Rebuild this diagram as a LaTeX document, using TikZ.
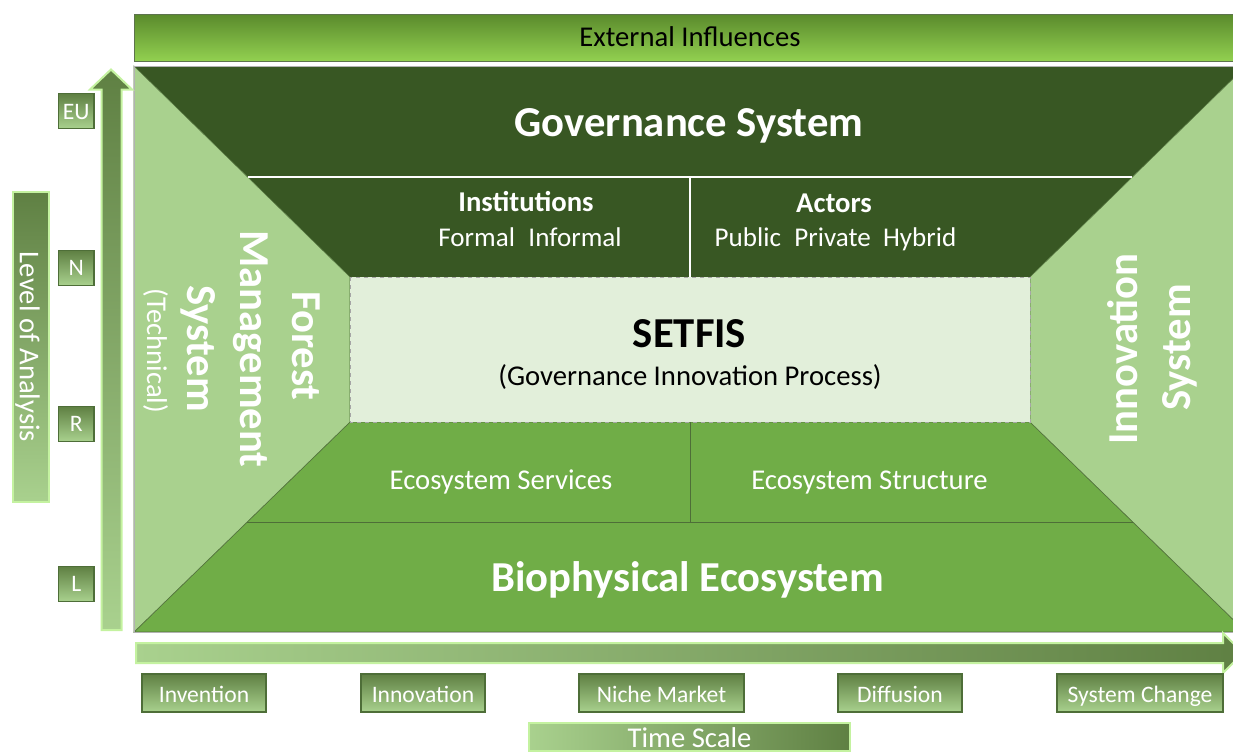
\documentclass[tikz,border=0pt]{standalone}
\usepackage{fontspec}
\setmainfont{Carlito}
\definecolor{gdark}{HTML}{385723}
\definecolor{gmid}{HTML}{70AD47}
\definecolor{glight}{HTML}{A9D18E}
\definecolor{gpale}{HTML}{E2EFDA}
\definecolor{gshade}{HTML}{5F8043}
\definecolor{gedge}{HTML}{C4F2A0}
\definecolor{gborder}{HTML}{4E6E38}
\definecolor{extop}{HTML}{5A8A2C}
\definecolor{exbot}{HTML}{92D050}
\newcommand{\fbig}{\fontsize{32}{38}\selectfont\bfseries}
\newcommand{\fmid}{\fontsize{21.5}{26}\selectfont}
\newcommand{\fsub}{\fontsize{20.3}{24}\selectfont}
\newcommand{\fsmall}{\fontsize{17.7}{21}\selectfont}
\begin{document}
\begin{tikzpicture}[x=0.75pt,y=-0.75pt,
  lbl/.style={anchor=base, text=white, inner sep=0pt},
  lvlbox/.style={draw=gborder, line width=0.8pt, top color=gshade, bottom color=glight,
    minimum width=26.5pt, minimum height=26.25pt, inner sep=0pt, text=white, font=\fsmall,
    text height=13.6pt, text depth=2pt},
  timebox/.style={draw=gborder, line width=0.8pt, top color=gshade, bottom color=glight,
    minimum height=28.5pt, inner sep=0pt, text=white, font=\fsmall,
    text height=15.5pt, text depth=2pt},
  fatarrow/.style={draw=gedge, line width=1.5pt, line join=miter}]
\useasboundingbox (0,0) rectangle (1233,753);
\clip (0,0) rectangle (1233,753);

% External influences bar
\node[draw=gborder!70!gray, line width=0.6pt, top color=extop, bottom color=exbot,
  minimum width=834pt, minimum height=35.25pt, inner sep=0pt, font=\fmid,
  text height=14.8pt, text depth=2pt] (ext) at (690,37.5) {External Influences};

% Frame: governance (top) and biophysical (bottom)
\fill[gdark] (134,66) -- (1246,66) -- (1030,277) -- (350,277) -- cycle;
\filldraw[fill=gmid, draw=gborder, line width=0.5pt] (134,632) -- (1246,632) -- (1030,422) -- (350,422) -- cycle;
% side panels
\filldraw[fill=glight, draw=gborder, line width=0.4pt] (134,66) -- (350,277) -- (350,422) -- (134,632) -- cycle;
\filldraw[fill=glight, draw=gborder, line width=0.4pt] (1246,66) -- (1030,277) -- (1030,422) -- (1246,632) -- cycle;
% centre
\filldraw[fill=gpale, draw=gray!70, dashed, line width=0.4pt] (350,277) rectangle (1030,422);
% division lines
\draw[white, line width=0.8pt] (247.6,177) -- (1132.4,177);
\draw[white, line width=0.8pt] (690,177) -- (690,277);
\draw[gborder, line width=0.6pt] (247.1,522) -- (1132.9,522);
\draw[gborder, line width=0.6pt] (690,422) -- (690,522);
\draw[gray!60, line width=0.5pt] (134,66) rectangle (1246,632);

% texts in frame
\node[lbl, font=\fbig] (gov) at (689,136) {Governance System};
\node[lbl, font=\fmid\bfseries] (inst) at (526,211.5) {Institutions};
\node[lbl, font=\fsub] (instsub) at (530,246) {Formal\hspace{0.5em}Informal};
\node[lbl, font=\fmid\bfseries] (act) at (834,212.5) {Actors};
\node[lbl, font=\fsub] (actsub) at (835.5,246) {Public\hspace{0.5em}Private\hspace{0.45em}Hybrid};
\node[lbl, font=\fbig, text=black] (setfis) at (689.5,347) {SETFIS};
\node[lbl, font=\fmid, text=black] (gip) at (690,385) {(Governance Innovation Process)};
\node[lbl, font=\fmid] (ess) at (501,489) {Ecosystem Services};
\node[lbl, font=\fmid] (est) at (869.5,489) {Ecosystem Structure};
\node[lbl, font=\fbig] (bio) at (687.5,591) {Biophysical Ecosystem};
\node[lbl, font=\fbig, rotate=-90] (fm1) at (292,346) {Forest};
\node[lbl, font=\fbig, rotate=-90] (fm2) at (240,349) {Management};
\node[lbl, font=\fbig, rotate=-90] (fm3) at (187,348.5) {System};
\node[lbl, font=\fmid, rotate=-90] (fm4) at (147,351) {(Technical)};
\node[lbl, font=\fbig, rotate=90] (is1) at (1137,349) {Innovation};
\node[lbl, font=\fbig, rotate=90] (is2) at (1190,347.5) {System};

% level of analysis
\node[draw=gedge, line width=1.5pt, top color=gshade, bottom color=glight,
  minimum width=27.5pt, minimum height=233pt, inner sep=0pt] (loa) at (31,347) {};
\node[lbl, font=\fmid, rotate=-90] (loatext) at (20,347) {Level of Analysis};
\shadedraw[fatarrow, top color=gshade, bottom color=glight]
  (101.5,630) -- (101.5,89.5) -- (90,89.5) -- (111,69.5) -- (132,89.5) -- (121.5,89.5) -- (121.5,630) -- cycle;
\node[lvlbox] (eu) at (76.3,111.3) {EU};
\node[lvlbox] (n) at (76.3,268) {N};
\node[lvlbox] (r) at (76.3,424) {R};
\node[lvlbox] (l) at (76.3,584) {L};

% time scale
\shadedraw[fatarrow, left color=glight, right color=gshade]
  (136,643) -- (1223,643) -- (1223,633) -- (1243,653) -- (1223,673) -- (1223,663) -- (136,663) -- cycle;
\node[timebox, minimum width=93pt] (inv) at (204,693) {Invention};
\node[timebox, minimum width=93pt] (inn) at (423,693) {Innovation};
\node[timebox, minimum width=123.75pt] (niche) at (661.5,693) {Niche Market};
\node[timebox, minimum width=93pt] (diff) at (900,693) {Diffusion};
\node[timebox, minimum width=124.5pt] (sysch) at (1140,693) {System Change};
\node[draw=gedge, line width=1.5pt, left color=glight, right color=gshade,
  minimum width=240.75pt, minimum height=21pt, inner sep=0pt, text=white, font=\fmid,
  text height=17pt, text depth=2pt] (ts) at (689.5,737) {Time Scale};
\end{tikzpicture}
\end{document}
